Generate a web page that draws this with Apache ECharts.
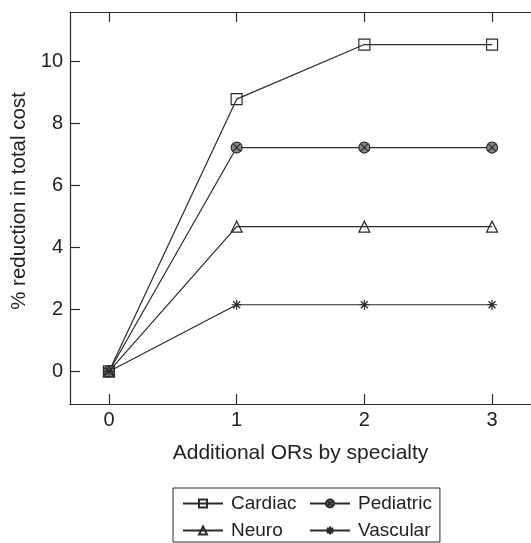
<!DOCTYPE html>
<html><head><meta charset="utf-8">
<script src="https://cdn.jsdelivr.net/npm/echarts@6/dist/echarts.min.js"></script>
<style>html,body{margin:0;padding:0;background:#fff}#c{width:531px;height:543px}</style>
</head><body><div id="c"></div>
<script>
var xValues = [0, 1, 2, 3];
var seriesNames = ['Cardiac', 'Pediatric', 'Neuro', 'Vascular'];
var cardiac = [0, 8.78, 10.54, 10.54];
var pediatric = [0, 7.22, 7.22, 7.22];
var neuro = [0, 4.67, 4.67, 4.67];
var vascular = [0, 2.15, 2.15, 2.15];
var yTicks = [0, 2, 4, 6, 8, 10];
var xTicks = [0, 1, 2, 3];

var ink = '#2b2b2b';
var font = 'Liberation Sans, Arial, Helvetica, sans-serif';
function pairs(vals){ return xValues.map(function(x,i){ return [x, vals[i]]; }); }

var circleX = 'path://M0,-5A5,5 0 1,1 0,5A5,5 0 1,1 0,-5Z M-3.5,-3.5L3.5,3.5 M3.5,-3.5L-3.5,3.5';
var asterisk = 'path://M-5,0L5,0 M0,-5L0,5 M-3.5,-3.5L3.5,3.5 M-3.5,3.5L3.5,-3.5';

function mk(name, vals, symbol, size, fill){
  return {
    name: name, type: 'line', data: pairs(vals),
    symbol: symbol, symbolSize: size, showAllSymbol: true, clip: false,
    lineStyle: { color: ink, width: 1.2 },
    itemStyle: { color: fill, borderColor: ink, borderWidth: 1.2 },
    emphasis: { disabled: true }, animation: false
  };
}

var chart = echarts.init(document.getElementById('c'), null, { renderer: 'canvas' });
chart.setOption({
  animation: false,
  backgroundColor: '#fff',
  grid: { left: 70, top: 12, width: 473, height: 392, containLabel: false },
  xAxis: [{
    type: 'value', min: -0.305, max: 3.305, position: 'bottom',
    name: 'Additional ORs by specialty', nameLocation: 'middle', nameGap: 39,
    nameTextStyle: { fontFamily: font, fontSize: 21, color: '#222' },
    axisLine: { show: true, onZero: false, lineStyle: { color: ink, width: 1.2 } },
    axisTick: { show: true, inside: true, length: 10, customValues: xTicks, lineStyle: { color: ink, width: 1.2 } },
    axisLabel: { customValues: xTicks, fontFamily: font, fontSize: 20, color: '#222', margin: 6 },
    splitLine: { show: false }
  }, {
    type: 'value', min: -0.305, max: 3.305, position: 'top',
    axisLine: { show: true, onZero: false, lineStyle: { color: ink, width: 1.2 } },
    axisTick: { show: true, inside: true, length: 10, customValues: xTicks, lineStyle: { color: ink, width: 1.2 } },
    axisLabel: { show: false }, splitLine: { show: false }
  }],
  yAxis: [{
    type: 'value', min: -1.05, max: 11.59, position: 'left',
    name: '% reduction in total cost', nameLocation: 'middle', nameGap: 37,
    nameTextStyle: { fontFamily: font, fontSize: 20.5, color: '#222', padding: [0, 0, 0, 14] },
    axisLine: { show: true, onZero: false, lineStyle: { color: ink, width: 1.2 } },
    axisTick: { show: true, inside: true, length: 10, customValues: yTicks, lineStyle: { color: ink, width: 1.2 } },
    axisLabel: { customValues: yTicks, fontFamily: font, fontSize: 20, color: '#222', margin: 7 },
    splitLine: { show: false }
  }],
  legend: {
    data: seriesNames, orient: 'horizontal', left: 173, top: 488, width: 262,
    padding: [6, 8, 2, 9], itemGap: 8, itemWidth: 40, itemHeight: 10,
    borderColor: ink, borderWidth: 1, backgroundColor: '#fff',
    textStyle: { fontFamily: font, fontSize: 19, lineHeight: 19, color: '#222', width: 70, padding: [0, 0, 0, 3] },
    selectedMode: false
  },
  series: [
    mk('Cardiac', cardiac, 'rect', 11, 'rgba(255,255,255,0)'),
    mk('Pediatric', pediatric, circleX, 11, '#888'),
    mk('Neuro', neuro, 'triangle', 11, 'rgba(255,255,255,0)'),
    mk('Vascular', vascular, asterisk, 10, 'rgba(255,255,255,0)')
  ]
});
</script></body></html>
